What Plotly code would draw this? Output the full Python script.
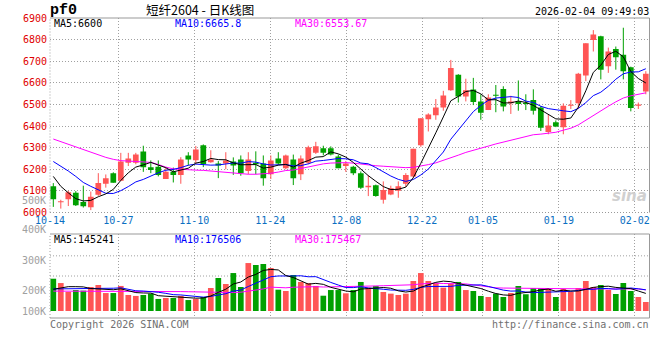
import plotly.graph_objects as go

# ---------------- data ----------------
DATE_LABELS = ["10-14", "10-27", "11-10", "11-24", "12-08", "12-22", "01-05", "01-19", "02-02"]
DATE_LABEL_IDX = [0, 9, 19, 29, 39, 49, 57, 67, 77]

OPEN = [6121, 6047, 6061, 6091, 6049, 6024, 6082, 6133, 6182, 6147,
        6230, 6230, 6282, 6209, 6212, 6155, 6188, 6173, 6264, 6242,
        6311, 6233, 6227, 6227, 6236, 6245, 6192, 6230, 6227, 6177,
        6250, 6205, 6245, 6177, 6230, 6276, 6297, 6297, 6259, 6215,
        6212, 6182, 6117, 6126, 6059, 6083, 6101, 6133, 6167, 6311,
        6432, 6450, 6486, 6566, 6637, 6537, 6569, 6514, 6474, 6544,
        6572, 6505, 6514, 6508, 6520, 6486, 6372, 6418, 6395, 6494,
        6505, 6634, 6798, 6815, 6677, 6757, 6730, 6672, 6494, 6560]
HIGH = [6136, 6059, 6100, 6099, 6124, 6097, 6182, 6176, 6186, 6276,
        6276, 6276, 6309, 6241, 6241, 6208, 6208, 6256, 6279, 6308,
        6315, 6288, 6238, 6279, 6255, 6264, 6279, 6283, 6264, 6264,
        6279, 6268, 6268, 6264, 6309, 6327, 6309, 6306, 6268, 6238,
        6216, 6190, 6173, 6129, 6144, 6124, 6144, 6182, 6295, 6436,
        6459, 6525, 6563, 6706, 6640, 6619, 6623, 6547, 6547, 6590,
        6584, 6540, 6611, 6547, 6570, 6493, 6453, 6426, 6505, 6520,
        6646, 6783, 6844, 6818, 6763, 6768, 6855, 6675, 6509, 6654]
LOW = [6026, 6018, 6030, 6030, 6023, 6011, 6077, 6115, 6138, 6145,
       6215, 6223, 6188, 6182, 6167, 6155, 6139, 6133, 6218, 6223,
       6210, 6230, 6159, 6200, 6174, 6170, 6177, 6177, 6124, 6155,
       6221, 6200, 6127, 6150, 6223, 6271, 6264, 6264, 6205, 6188,
       6173, 6109, 6076, 6073, 6041, 6080, 6068, 6118, 6159, 6304,
       6375, 6429, 6471, 6563, 6509, 6514, 6497, 6429, 6474, 6464,
       6468, 6456, 6471, 6474, 6453, 6377, 6362, 6395, 6362, 6479,
       6479, 6608, 6745, 6616, 6646, 6661, 6616, 6468, 6479, 6547]
CLOSE = [6061, 6051, 6094, 6033, 6029, 6073, 6136, 6159, 6138, 6236,
         6250, 6268, 6209, 6197, 6173, 6189, 6173, 6245, 6245, 6291,
         6225, 6245, 6218, 6241, 6218, 6182, 6245, 6223, 6159, 6241,
         6227, 6264, 6159, 6250, 6302, 6306, 6276, 6268, 6205, 6227,
         6182, 6114, 6124, 6076, 6104, 6112, 6121, 6174, 6295, 6436,
         6453, 6486, 6541, 6669, 6537, 6566, 6511, 6461, 6532, 6540,
         6490, 6514, 6502, 6502, 6471, 6392, 6403, 6398, 6494, 6499,
         6642, 6783, 6824, 6661, 6745, 6718, 6654, 6483, 6500, 6642]
VOLUME = [268000, 232000, 158000, 174000, 169000, 199000, 216000, 149000, 149000, 208000,
          133000, 125000, 133000, 144000, 100000, 108000, 108000, 125000, 91000, 100000,
          116000, 191000, 274000, 224000, 315000, 199000, 398000, 382000, 390000, 357000,
          177000, 166000, 299000, 241000, 232000, 208000, 127000, 174000, 174000, 147000,
          174000, 241000, 194000, 208000, 158000, 144000, 133000, 144000, 249000, 315000,
          249000, 232000, 194000, 227000, 241000, 174000, 166000, 125000, 116000, 144000,
          116000, 149000, 208000, 138000, 191000, 191000, 183000, 116000, 183000, 158000,
          191000, 249000, 199000, 216000, 174000, 141000, 232000, 166000, 116000, 75000]

# moving-average values before enough history exists inside the window
MA5_HEAD = [6167, 6121, 6091, 6064]
MA10_HEAD = [6236, 6215, 6192, 6167, 6139, 6121, 6106, 6089, 6088]
MA30_HEAD = [6340, 6328, 6315, 6302, 6289, 6277, 6266, 6255, 6246, 6240,
             6238, 6236, 6234, 6232, 6222, 6210, 6202, 6199, 6197, 6196,
             6195, 6192, 6188, 6184, 6181, 6178, 6177, 6177, 6179]
VMA5_HEAD = [180000, 194000, 202000, 202000]
VMA10_HEAD = [183000, 183000, 184000, 184000, 185000, 186000, 188000, 188000, 189000]
VMA30_HEAD = [165000, 165000, 165000, 165000, 166000, 166000, 166000, 166000, 166000, 167000,
              167000, 167000, 166000, 165000, 164000, 163000, 162000, 161000, 160000, 158000,
              155000, 153000, 152000, 152000, 153000, 156000, 163000, 172000, 183000]

PRICE_TICKS = [6000, 6100, 6200, 6300, 6400, 6500, 6600, 6700, 6800, 6900]
VOL_AXIS_LABELS = ["500K", "400K", "300K", "200K", "100K"]
PRICE_MA_LABELS = ["MA5:6600", "MA10:6665.8", "MA30:6553.67"]
VOL_MA_LABELS = ["MA5:145241", "MA10:176506", "MA30:175467"]
TITLE_SYMBOL = "pf0"
TITLE_TEXT = "短纤2604 - 日K线图"
TIMESTAMP = "2026-02-04 09:49:03"
COPYRIGHT = "Copyright 2026 SINA.COM"
URL = "http://finance.sina.com.cn"

# ---------------- styling / layout constants ----------------
W, H = 660, 360
RED, GREEN = "#FF5555", "#00A000"
MA_COLORS = ["#000000", "#0000FF", "#FF00FF"]
GRID = "#A0A0A0"
DOT = "1px,2px"
MONO = "DejaVu Sans Mono"

def fx(px):
    return px / W

def fy(py):
    return 1 - py / H

def moving_average(values, n, head):
    out = list(head)
    for i in range(len(head), len(values)):
        out.append(sum(values[i - n + 1:i + 1]) / n)
    return out

n = len(CLOSE)
idx = list(range(n))
up = [c >= o for o, c in zip(OPEN, CLOSE)]
colors = [RED if u else GREEN for u in up]

fig = go.Figure()

# wicks
for col, flag in ((RED, True), (GREEN, False)):
    xs, ys = [], []
    for i in idx:
        if up[i] == flag:
            xs += [i, i, None]
            ys += [LOW[i], HIGH[i], None]
    fig.add_trace(go.Scatter(x=xs, y=ys, mode="lines", line=dict(color=col, width=1),
                             hoverinfo="skip", showlegend=False, xaxis="x", yaxis="y"))

# bodies
min_body = 4.5
fig.add_trace(go.Bar(x=idx, y=[max(abs(c - o), min_body) for o, c in zip(OPEN, CLOSE)],
                     base=[min(o, c) for o, c in zip(OPEN, CLOSE)], width=0.76,
                     marker=dict(color=colors, line=dict(width=0)), showlegend=False,
                     xaxis="x", yaxis="y"))

# price MAs
for n_ma, head, col in ((30, MA30_HEAD, MA_COLORS[2]), (10, MA10_HEAD, MA_COLORS[1]), (5, MA5_HEAD, MA_COLORS[0])):
    fig.add_trace(go.Scatter(x=idx, y=moving_average(CLOSE, n_ma, head), mode="lines",
                             line=dict(color=col, width=1), showlegend=False, xaxis="x", yaxis="y"))

# volume
fig.add_trace(go.Bar(x=idx, y=VOLUME, width=0.76, marker=dict(color=colors, line=dict(width=0)),
                     showlegend=False, xaxis="x2", yaxis="y2"))
for n_ma, head, col in ((30, VMA30_HEAD, MA_COLORS[2]), (10, VMA10_HEAD, MA_COLORS[1]), (5, VMA5_HEAD, MA_COLORS[0])):
    fig.add_trace(go.Scatter(x=idx, y=moving_average(VOLUME, n_ma, head), mode="lines",
                             line=dict(color=col, width=1), showlegend=False, xaxis="x2", yaxis="y2"))

# gridline positions follow the chart's own (slightly wider) label spacing
grid_pos = [k * 80 / 79 - 0.44 for k in DATE_LABEL_IDX]
x_dom = [fx(50), fx(649.5)]
x_rng = [-0.44, 79.49]

axis_common = dict(showline=False, zeroline=False, ticks="", fixedrange=True, automargin=False)
fig.update_layout(
    width=W, height=H, margin=dict(l=0, r=0, t=0, b=0, pad=0, autoexpand=False), autosize=False,
    paper_bgcolor="white", plot_bgcolor="white", barmode="overlay", showlegend=False,
    xaxis=dict(domain=x_dom, range=x_rng, anchor="y", tickmode="array", tickvals=grid_pos,
               ticktext=DATE_LABELS, tickfont=dict(family=MONO, size=10, color="#0A6FC2"),
               showgrid=True, gridcolor=GRID, griddash=DOT, gridwidth=1,
               rangeslider=dict(visible=False), **axis_common),
    yaxis=dict(domain=[fy(212.5), fy(18)], range=[6000, 6900], anchor="x", tickmode="array",
               tickvals=PRICE_TICKS, ticktext=[str(v) for v in PRICE_TICKS],
               tickfont=dict(family=MONO, size=10, color="#E00000"), ticklabelstandoff=2,
               showgrid=True, gridcolor=GRID, griddash=DOT, gridwidth=1, **axis_common),
    xaxis2=dict(domain=x_dom, range=x_rng, anchor="y2", tickmode="array", tickvals=grid_pos,
                showticklabels=False, showgrid=True, gridcolor=GRID, griddash=DOT, gridwidth=1,
                **axis_common),
    yaxis2=dict(domain=[fy(318), fy(234)], range=[-58100, 639100], anchor="x2",
                showticklabels=False, showgrid=False, **axis_common),
)

shapes = []
for xd, yd, bottom_dash in (("x domain", "y domain", DOT), ("x2 domain", "y2 domain", "solid")):
    shapes.append(dict(type="line", xref=xd, yref=yd, x0=0, x1=1, y0=1, y1=1, line=dict(color="#999999", width=1)))
    shapes.append(dict(type="line", xref=xd, yref=yd, x0=1, x1=1, y0=0, y1=1, line=dict(color="#999999", width=1)))
    shapes.append(dict(type="line", xref=xd, yref=yd, x0=0, x1=0, y0=0, y1=1, line=dict(color=GRID, width=1, dash=DOT)))
    shapes.append(dict(type="line", xref=xd, yref=yd, x0=0, x1=1, y0=0, y1=0, line=dict(color="#999999", width=1, dash=bottom_dash)))
for yf in (0.74, 0.5):
    shapes.append(dict(type="line", xref="x2 domain", yref="y2 domain", x0=0, x1=1, y0=yf, y1=yf,
                       layer="below", line=dict(color=GRID, width=1, dash=DOT)))
fig.update_layout(shapes=shapes)

ann = []
def text(s, x, y, color="#000000", size=10, anchor="left", family=MONO, **kw):
    ann.append(dict(text=s, x=fx(x), y=fy(y), xref="paper", yref="paper", xanchor=anchor,
                    yanchor="middle", showarrow=False, borderpad=0,
                    font=dict(family=family, size=size, color=color, **kw)))

text(TITLE_SYMBOL, 49, 10.5, size=15, family="Liberation Mono", weight="bold")
text(TITLE_TEXT, 200, 9, size=12.5, anchor="center", family="Noto Sans CJK SC")
text(TIMESTAMP, 650, 12, anchor="right")
for s, x, c in zip(PRICE_MA_LABELS, (53, 174, 294), MA_COLORS):
    text(s, x, 24, color=c)
for s, x, c in zip(VOL_MA_LABELS, (53, 174, 294), MA_COLORS):
    text(s, x, 239.5, color=c)
for s, y in zip(VOL_AXIS_LABELS, (200, 230, 260, 290.5, 311)):
    text(s, 47, y, color="#A0A0A0", anchor="right")
text(COPYRIGHT, 49, 324.5, color="#707070")
text(URL, 650, 324.5, color="#707070", anchor="right")
text("sina", 648, 196, color="#D0D0D0", size=15, anchor="right", family="DejaVu Sans",
     weight="bold", style="italic")
fig.update_layout(annotations=ann)

fig.write_html("out.html", config={"displayModeBar": False, "staticPlot": True},
               post_script="document.body.style.margin='0px';")
